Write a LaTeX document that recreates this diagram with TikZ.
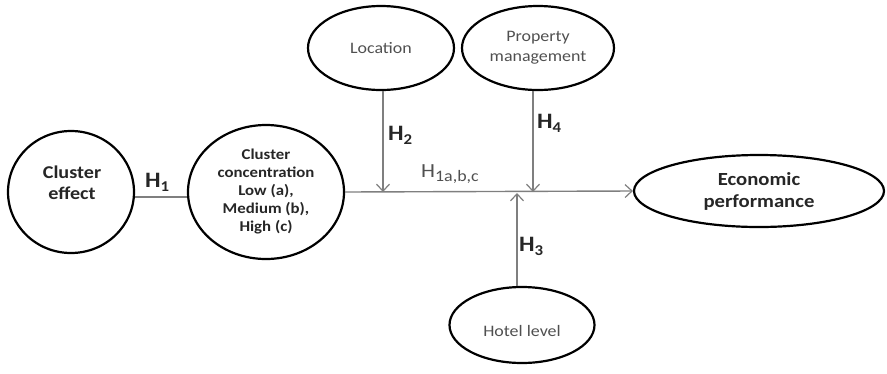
\documentclass[tikz,border=0pt]{standalone}
\usepackage{fontspec}
\setmainfont{Carlito}[FakeStretch=1.12]
\usetikzlibrary{shapes.geometric,arrows.meta}
\definecolor{linegray}{HTML}{7F7F7F}
\definecolor{softtext}{HTML}{505050}
\definecolor{darktext}{HTML}{262626}
\tikzset{
  oval/.style={draw=black, line width=2.2pt, ellipse, inner sep=0pt},
  conn/.style={draw=linegray, line width=1.4pt},
  arr/.style={conn, -{Straight Barb[length=7pt,width=13pt,line width=1.2pt]}},
  hlab/.style={inner sep=0pt, anchor=west, text=darktext},
}
\newcommand{\Hb}[1]{\fontsize{22}{22}\selectfont\bfseries H\raisebox{-4pt}{\fontsize{15}{15}\selectfont #1}}
\begin{document}
\begin{tikzpicture}[x=1pt,y=-1pt]
  \useasboundingbox (0,0) rectangle (887,373);
  % construct ovals
  \node[oval, minimum width=126pt, minimum height=122pt] (ce) at (71,192) {};
  \node[text=darktext, align=center, font=\fontsize{18}{21}\selectfont\bfseries] (cet) at (72,183) {Cluster\\effect};
  \node[oval, minimum width=156pt, minimum height=134pt, text=darktext, align=center,
        font=\fontsize{15}{18}\selectfont\bfseries] (cc) at (266,192)
        {Cluster\\concentration\\Low (a),\\Medium (b),\\High (c)};
  \node[oval, minimum width=146pt, minimum height=84pt, text=softtext,
        font=\fontsize{16}{20}\selectfont] (loc) at (381,48) {Location};
  \node[oval, minimum width=152pt, minimum height=84pt, text=softtext, align=center,
        font=\fontsize{16}{20}\selectfont] (pm) at (538,48) {Property\\management};
  \node[oval, minimum width=145pt, minimum height=76pt] (hl) at (522,325) {};
  \node[text=softtext, font=\fontsize{16}{20}\selectfont] (hlt) at (522,331) {Hotel level};
  \node[oval, minimum width=250pt, minimum height=72pt, text=darktext, align=center,
        font=\fontsize{18.5}{22}\selectfont\bfseries] (econ) at (759,191)
        {Economic\\performance};
  % points where the moderators meet the main path
  \coordinate (j2) at (383,192);
  \coordinate (j4) at (533,192);
  \coordinate (j3) at (517,193);
  % connectors
  \draw[conn] ([yshift=-5pt]ce.east) -- ([yshift=-5pt]cc.west);
  \draw[arr] (cc.east) -- (econ.west);
  \draw[arr] (loc.south -| j2) -- (j2);
  \draw[arr] (pm.south -| j4) -- (j4);
  \draw[arr] (hl.north -| j3) -- (j3);
  % hypothesis labels
  \node[hlab] (h1) at (145,182) {\Hb{1}};
  \node[hlab] (h2) at (388,135) {\Hb{2}};
  \node[hlab] (h4) at (537,123) {\Hb{4}};
  \node[hlab] (h3) at (519,246) {\Hb{3}};
  \node[hlab, text=softtext] (h1abc) at (421,174)
        {\fontsize{20}{20}\selectfont H\raisebox{-4pt}{\fontsize{16}{16}\selectfont 1a,b,c}};
\end{tikzpicture}
\end{document}
